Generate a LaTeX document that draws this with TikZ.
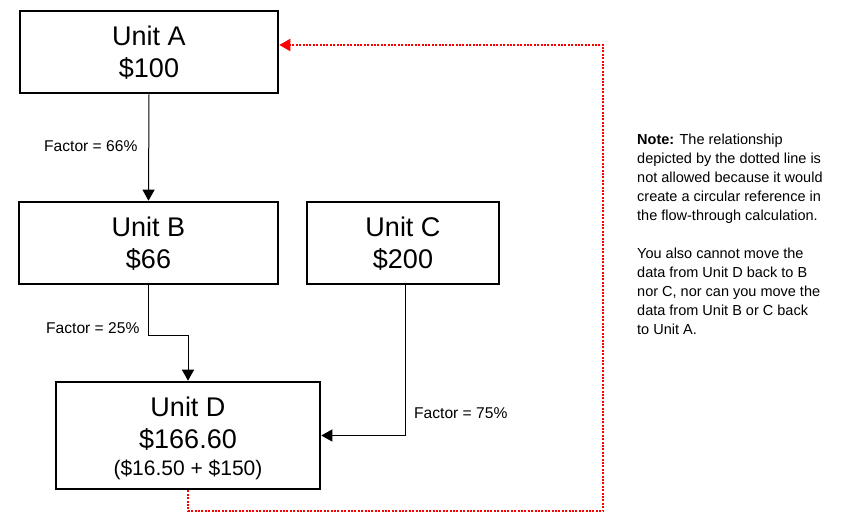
\documentclass[tikz,border=0pt]{standalone}
\usepackage{fontspec}
\setmainfont{Liberation Sans}
\usetikzlibrary{arrows.meta}
\begin{document}
\begin{tikzpicture}[x=1pt,y=-1pt,
  box/.style={draw=black,line width=2.6pt,rectangle,inner sep=0pt,fill=white},
  big/.style={align=center,font=\fontsize{27}{32}\selectfont,inner sep=0pt},
  mid/.style={font=\fontsize{21}{24}\selectfont,inner sep=0pt},
  lbl/.style={font=\fontsize{15.6}{18}\selectfont,anchor=west,inner sep=0pt},
  arr/.style={draw=black,line width=1pt,-{Triangle[length=11pt,width=12pt]}},
  loop/.style={draw=red,line width=2pt,dash pattern=on 2pt off 1.4pt,-{Triangle[length=11pt,width=12pt,fill=red]}}
]
\useasboundingbox (0,0) rectangle (853,518);
% boxes
\node[box,minimum width=258pt,minimum height=82pt] (A) at (149,52) {};
\node[big] (At) at (149,53) {Unit A\\\$100};
\node[box,minimum width=259pt,minimum height=82pt] (B) at (148.5,243) {};
\node[big] (Bt) at (148.5,244) {Unit B\\\$66};
\node[box,minimum width=192pt,minimum height=82pt] (C) at (403,243) {};
\node[big] (Ct) at (403,244) {Unit C\\\$200};
\node[box,minimum width=264pt,minimum height=107pt] (D) at (188,435.5) {};
\node[big] (Dt) at (188,424) {Unit D\\\$166.60};
\node[mid] (Dn) at (188,470) {(\$16.50 + \$150)};
% labels
\node[lbl] (L1) at (44,146) {Factor = 66\%};
\node[lbl] (L2) at (46,328) {Factor = 25\%};
\node[lbl] (L3) at (414,413) {Factor = 75\%};
% connectors
\coordinate (bd) at (148.5,335);
\coordinate (cx) at (405,284);
\draw[arr] (A.south) -- (B.north);
\draw[arr] (B.south) -- (bd) -| (D.north);
\draw[arr] (C.south -| cx) |- (D.east);
\coordinate (r1) at (188,511);
\coordinate (r2) at (603,511);
\coordinate (r3) at (603,45);
\draw[loop] (D.south) -- (r1) -- (r2) -- (r3) -- (A.east |- r3);
% note
\node[anchor=north west,align=left,inner sep=0pt,font=\fontsize{14.5}{19}\selectfont] (N) at (637,134)
{\textbf{Note:} The relationship\\depicted by the dotted line is\\not allowed because it would\\create a circular reference in\\the flow-through calculation.\\[19pt]You also cannot move the\\data from Unit D back to B\\nor C, nor can you move the\\data from Unit B or C back\\to Unit A.};
\end{tikzpicture}
\end{document}
